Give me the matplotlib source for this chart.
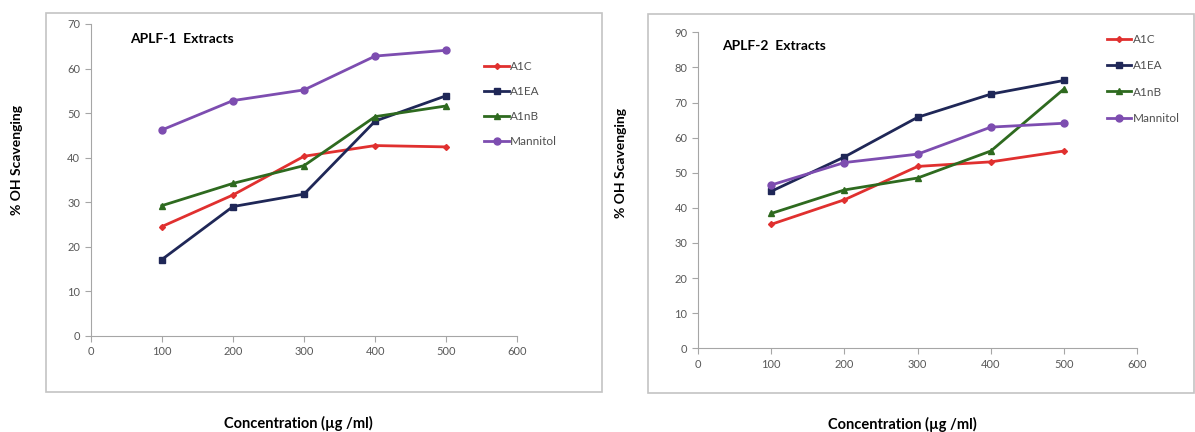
import matplotlib
matplotlib.use("Agg")
import matplotlib.pyplot as plt
from matplotlib.patches import Rectangle

# concentrations (ug/ml) shared by both panels
conc = [100, 200, 300, 400, 500]
series_names = ["A1C", "A1EA", "A1nB", "Mannitol"]

# APLF-1 extracts, % OH scavenging
aplf1_a1c = [24.5, 31.6, 40.3, 42.7, 42.4]
aplf1_a1ea = [17.1, 29.0, 31.8, 48.2, 53.9]
aplf1_a1nb = [29.2, 34.2, 38.2, 49.2, 51.6]
aplf1_mannitol = [46.2, 52.8, 55.2, 62.8, 64.1]

# APLF-2 extracts, % OH scavenging
aplf2_a1c = [35.3, 42.3, 51.8, 53.1, 56.2]
aplf2_a1ea = [44.7, 54.5, 65.8, 72.4, 76.3]
aplf2_a1nb = [38.4, 45.1, 48.5, 56.2, 73.9]
aplf2_mannitol = [46.5, 52.9, 55.3, 63.0, 64.1]

colors = ["#e0302f", "#1f2757", "#2e6a1f", "#7d4db0"]
markers = ["D", "s", "^", "o"]
msizes = [3, 5, 4.5, 5]

plt.rcParams['font.family'] = ['Lato', 'DejaVu Sans']

W, H = 1195, 432
fig = plt.figure(figsize=(W / 100, H / 100), dpi=100)


def px_axes(x0, y_top, x1, y_bot):
    return fig.add_axes([x0 / W, 1 - y_bot / H, (x1 - x0) / W, (y_bot - y_top) / H])


def px_box(x0, y_top, x1, y_bot):
    fig.patches.append(Rectangle((x0 / W, 1 - y_bot / H), (x1 - x0) / W,
                                 (y_bot - y_top) / H, transform=fig.transFigure,
                                 fill=False, edgecolor="#c4c4c4", linewidth=1.2))


def draw_panel(ax, data, ymax, title, title_pos, legend_anchor, spacing):
    for vals, name, c, m, ms in zip(data, series_names, colors, markers, msizes):
        ax.plot(conc, vals, color=c, marker=m, markersize=ms, linewidth=2,
                label=name)
    ax.set_xlim(0, 600)
    ax.set_ylim(0, ymax)
    ax.set_xticks(range(0, 601, 100))
    ax.set_yticks(range(0, ymax + 1, 10))
    for s in ["top", "right"]:
        ax.spines[s].set_visible(False)
    for s in ["left", "bottom"]:
        ax.spines[s].set_color("#a6a6a6")
    ax.tick_params(direction="out", length=4, color="#a6a6a6",
                   labelsize=8, labelcolor="#595959")
    ax.text(title_pos[0], title_pos[1], title, transform=ax.transAxes,
            fontsize=10, fontweight="bold", va="center", ha="left")
    ax.legend(loc="upper left", bbox_to_anchor=legend_anchor, frameon=False,
              fontsize=8.5, handlelength=2.1, handletextpad=0.1,
              labelspacing=spacing, borderpad=0, borderaxespad=0,
              labelcolor="#505050")


px_box(46, 13, 602, 392)
px_box(648, 14, 1194, 393)

ax1 = px_axes(90.7, 24, 517.4, 335.7)
draw_panel(ax1, [aplf1_a1c, aplf1_a1ea, aplf1_a1nb, aplf1_mannitol], 70,
           "APLF-1  Extracts", (0.092, 0.952), (0.922, 0.882), 1.2)

ax2 = px_axes(697.9, 32.3, 1137.4, 348.3)
draw_panel(ax2, [aplf2_a1c, aplf2_a1ea, aplf2_a1nb, aplf2_mannitol], 90,
           "APLF-2  Extracts", (0.056, 0.958), (0.93, 0.995), 1.3)

for x, y in [(17, 160), (621, 163)]:
    fig.text(x / W, 1 - y / H, "% OH Scavenging", rotation=90, fontsize=10,
             fontweight="bold", ha="center", va="center")
for x, y in [(298, 423), (902, 424)]:
    fig.text(x / W, 1 - y / H, "Concentration (µg /ml)", fontsize=10.5,
             fontweight="bold", ha="center", va="center")

fig.savefig("out.png", dpi=100, facecolor="white")
